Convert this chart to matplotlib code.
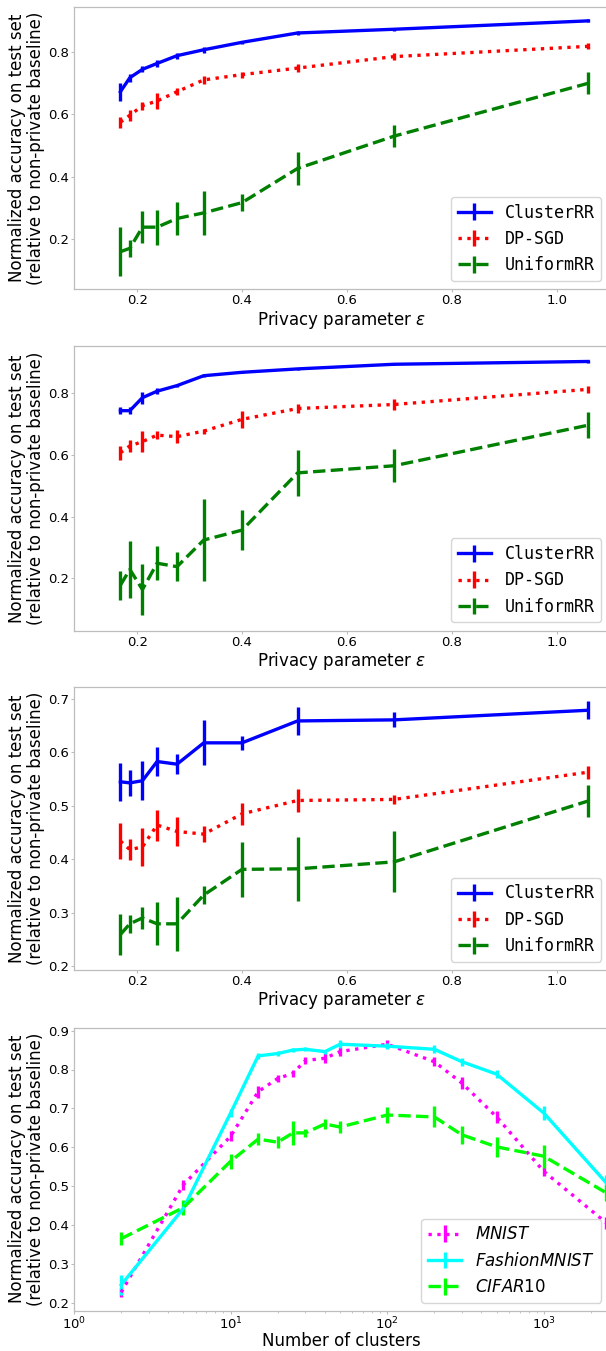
import matplotlib
matplotlib.use("Agg")
import matplotlib.pyplot as plt

# privacy parameter values (x of panels 1-3)
eps = [0.168, 0.186, 0.21, 0.238, 0.276, 0.327, 0.4, 0.506, 0.69, 1.06]

# panel 1
cl1 = [0.673, 0.718, 0.745, 0.764, 0.789, 0.808, 0.832, 0.862, 0.874, 0.901]
cl1_err = [0.029, 0.013, 0.01, 0.01, 0.01, 0.01, 0.005, 0.005, 0.005, 0.005]
dp1 = [0.575, 0.597, 0.628, 0.643, 0.673, 0.711, 0.728, 0.749, 0.786, 0.819]
dp1_err = [0.018, 0.017, 0.013, 0.027, 0.012, 0.012, 0.01, 0.013, 0.012, 0.01]
un1 = [0.158, 0.169, 0.237, 0.237, 0.265, 0.283, 0.316, 0.426, 0.530, 0.700]
un1_err = [0.078, 0.027, 0.051, 0.056, 0.054, 0.07, 0.027, 0.053, 0.036, 0.036]

# panel 2
cl2 = [0.742, 0.742, 0.784, 0.805, 0.823, 0.855, 0.866, 0.877, 0.892, 0.901]
cl2_err = [0.012, 0.012, 0.019, 0.01, 0.003, 0.005, 0.003, 0.004, 0.004, 0.004]
dp2 = [0.606, 0.628, 0.642, 0.663, 0.658, 0.676, 0.714, 0.749, 0.762, 0.811]
dp2_err = [0.022, 0.02, 0.034, 0.013, 0.02, 0.008, 0.028, 0.015, 0.017, 0.012]
un2 = [0.178, 0.229, 0.164, 0.249, 0.238, 0.324, 0.356, 0.541, 0.564, 0.695]
un2_err = [0.047, 0.092, 0.081, 0.055, 0.048, 0.132, 0.065, 0.074, 0.054, 0.042]

# panel 3
cl3 = [0.545, 0.543, 0.547, 0.583, 0.578, 0.618, 0.618, 0.659, 0.661, 0.679]
cl3_err = [0.036, 0.025, 0.037, 0.028, 0.019, 0.042, 0.013, 0.027, 0.014, 0.017]
dp3 = [0.434, 0.418, 0.423, 0.464, 0.452, 0.447, 0.485, 0.510, 0.512, 0.563]
dp3_err = [0.033, 0.02, 0.036, 0.029, 0.027, 0.015, 0.02, 0.021, 0.008, 0.012]
un3 = [0.259, 0.279, 0.290, 0.279, 0.279, 0.333, 0.381, 0.382, 0.395, 0.509]
un3_err = [0.038, 0.017, 0.02, 0.04, 0.05, 0.016, 0.051, 0.06, 0.057, 0.03]

# panel 4 (number of clusters)
clusters = [2, 5, 10, 15, 20, 25, 30, 40, 50, 100, 200, 300, 500, 1000, 2500]
mnist = [0.227, 0.504, 0.628, 0.743, 0.777, 0.790, 0.823, 0.829, 0.846, 0.865, 0.820, 0.765, 0.678, 0.538, 0.406]
mnist_err = [0.012, 0.013, 0.013, 0.015, 0.008, 0.01, 0.008, 0.013, 0.012, 0.01, 0.012, 0.015, 0.015, 0.012, 0.015]
fashion = [0.246, 0.443, 0.688, 0.835, 0.841, 0.850, 0.852, 0.846, 0.865, 0.860, 0.852, 0.820, 0.788, 0.688, 0.509]
fashion_err = [0.026, 0.005, 0.01, 0.008, 0.006, 0.006, 0.005, 0.005, 0.01, 0.008, 0.01, 0.01, 0.01, 0.018, 0.02]
cifar = [0.365, 0.445, 0.564, 0.621, 0.613, 0.637, 0.637, 0.660, 0.652, 0.683, 0.678, 0.632, 0.601, 0.577, 0.483]
cifar_err = [0.017, 0.019, 0.019, 0.015, 0.015, 0.031, 0.01, 0.012, 0.015, 0.02, 0.027, 0.023, 0.026, 0.03, 0.02]

W, H = 606, 1351
fig = plt.figure(figsize=(W / 100, H / 100), dpi=100)

ylab = "Normalized accuracy on test set\n(relative to non-private baseline)"
lw = 2.4


def make_axes(top, bottom):
    # pixel box -> figure fraction, right side runs past the crop
    left, right = 74, 609.5
    ax = fig.add_axes([left / W, 1 - bottom / H, (right - left) / W, (bottom - top) / H])
    for s in ax.spines.values():
        s.set_color('#bdbdbd')
        s.set_linewidth(0.9)
    ax.tick_params(which='major', length=2, width=0.8, color='#bdbdbd', pad=1.5, labelsize=9.5)
    ax.tick_params(which='minor', length=1.2, width=0.6, color='#bdbdbd')
    ax.set_ylabel(ylab, fontsize=12, labelpad=2, linespacing=1.1)
    return ax


def eps_panel(top, bottom, cl, cle, dp, dpe, un, une, ylim):
    ax = make_axes(top, bottom)
    ax.errorbar(eps, cl, yerr=cle, color='blue', linestyle='-', linewidth=lw, elinewidth=lw, label='ClusterRR')
    ax.errorbar(eps, dp, yerr=dpe, color='red', linestyle=':', linewidth=lw, elinewidth=lw, label='DP-SGD')
    ax.errorbar(eps, un, yerr=une, color='green', linestyle='--', linewidth=lw, elinewidth=lw, label='UniformRR')
    ax.set_xlim(0.0795, 1.1009)
    ax.set_ylim(*ylim)
    ax.set_xlabel(r'Privacy parameter $\epsilon$', fontsize=12, labelpad=1)
    ax.legend(loc='lower right', prop={'family': 'DejaVu Sans Mono', 'size': 12})
    return ax


eps_panel(6.7, 289.3, cl1, cl1_err, dp1, dp1_err, un1, un1_err, (0.037, 0.9466))
eps_panel(346, 630.7, cl2, cl2_err, dp2, dp2_err, un2, un2_err, (0.031, 0.951))
eps_panel(687.3, 970, cl3, cl3_err, dp3, dp3_err, un3, un3_err, (0.1925, 0.722))

ax = make_axes(1027.5, 1311)
ax.errorbar(clusters, mnist, yerr=mnist_err, color='magenta', linestyle=':', linewidth=lw, elinewidth=lw, label='$MNIST$')
ax.errorbar(clusters, fashion, yerr=fashion_err, color='cyan', linestyle='-', linewidth=lw, elinewidth=lw, label='$FashionMNIST$')
ax.errorbar(clusters, cifar, yerr=cifar_err, color='lime', linestyle='--', linewidth=lw, elinewidth=lw, label='$CIFAR10$')
ax.set_xscale('log')
ax.set_xlim(1, 2628)
ax.set_ylim(0.179, 0.908)
ax.set_xlabel('Number of clusters', fontsize=12, labelpad=0)
ax.legend(loc='lower right', fontsize=12)

fig.savefig('out.png', dpi=100)
